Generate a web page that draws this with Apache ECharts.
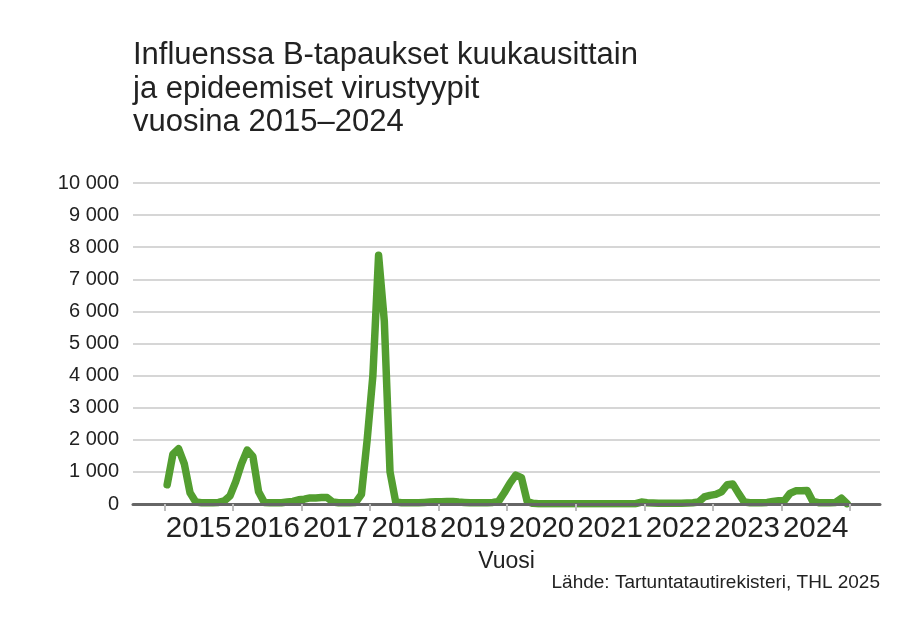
<!DOCTYPE html>
<html>
<head>
<meta charset="utf-8">
<script src="https://cdn.jsdelivr.net/npm/echarts@6/dist/echarts.min.js"></script>
<style>
  html, body { margin: 0; padding: 0; background: #fff; }
  #chart { width: 920px; height: 629px; }
</style>
</head>
<body>
<div id="chart"></div>
<script>
// monthly influenza B cases, Jan..Dec of each year
var cases2015 = [600, 1550, 1720, 1250, 350, 60, 40, 40, 40, 50, 100, 250];
var cases2016 = [700, 1250, 1680, 1480, 380, 50, 40, 40, 40, 60, 80, 130];
var cases2017 = [150, 190, 190, 200, 200, 60, 40, 40, 40, 50, 300, 2000];
var cases2018 = [4000, 7750, 5700, 1000, 60, 40, 40, 40, 40, 50, 60, 70];
var cases2019 = [70, 80, 80, 60, 50, 40, 40, 40, 40, 50, 80, 350];
var cases2020 = [650, 900, 820, 80, 20, 10, 10, 10, 10, 10, 10, 10];
var cases2021 = [10, 10, 10, 10, 10, 10, 10, 10, 10, 10, 10, 60];
var cases2022 = [40, 30, 20, 20, 20, 20, 20, 30, 40, 60, 220, 270];
var cases2023 = [300, 380, 600, 620, 330, 60, 40, 40, 40, 50, 80, 100];
var cases2024 = [100, 330, 410, 410, 420, 80, 40, 40, 40, 50, 180, 10];

var years = [2015, 2016, 2017, 2018, 2019, 2020, 2021, 2022, 2023, 2024];
var yTicks = [0, 1000, 2000, 3000, 4000, 5000, 6000, 7000, 8000, 9000, 10000];

var allMonths = [].concat(cases2015, cases2016, cases2017, cases2018, cases2019,
    cases2020, cases2021, cases2022, cases2023, cases2024);

// x value = month index, centred inside its month
var lineData = allMonths.map(function(v, i) { return [i + 0.5, v]; });
var yearBounds = years.map(function(y, i) { return i * 12; }).concat([years.length * 12]);
var yearMids = years.map(function(y, i) { return i * 12 + 6; });

var FONT = '"Liberation Sans", Arial, sans-serif';
var chart = echarts.init(document.getElementById('chart'));

chart.setOption({
    backgroundColor: '#fff',
    textStyle: { fontFamily: FONT },
    title: [
        {
            text: 'Influenssa B-tapaukset kuukausittain\nja epideemiset virustyypit\nvuosina 2015\u20132024',
            left: 133,
            top: 39,
            padding: 0,
            textStyle: { fontFamily: FONT, fontSize: 31, fontWeight: 'normal', lineHeight: 33.5, color: '#222' }
        },
        {
            text: 'Lähde: Tartuntatautirekisteri, THL 2025',
            right: 40,
            top: 573,
            padding: 0,
            textStyle: { fontFamily: FONT, fontSize: 19, fontWeight: 'normal', color: '#222' }
        }
    ],
    grid: { left: 133, right: 40, top: 183, bottom: 125 },
    xAxis: {
        type: 'value',
        min: -5.48,
        max: 125.25,
        z: 5,
        name: 'Vuosi',
        nameLocation: 'middle',
        nameGap: 46,
        nameTextStyle: { fontFamily: FONT, fontSize: 23, color: '#222' },
        axisLine: { show: true, lineStyle: { color: '#666', width: 3 } },
        axisTick: {
            show: true,
            customValues: yearBounds,
            length: 7,
            lineStyle: { color: '#bdbdbd', width: 2 }
        },
        axisLabel: {
            customValues: yearMids,
            margin: 10,
            fontFamily: FONT,
            fontSize: 29.5,
            color: '#222',
            formatter: function(v) { return String(years[Math.round((v - 6) / 12)]); }
        },
        splitLine: { show: false }
    },
    yAxis: {
        type: 'value',
        min: yTicks[0],
        max: yTicks[yTicks.length - 1],
        interval: 1000,
        axisLine: { show: false },
        axisTick: { show: false },
        axisLabel: {
            margin: 14,
            fontFamily: FONT,
            fontSize: 20,
            color: '#222',
            formatter: function(v) { return String(v).replace(/\B(?=(\d{3})+(?!\d))/g, ' '); }
        },
        splitLine: { lineStyle: { color: '#c8c8c8', width: 1.5 } }
    },
    series: [{
        type: 'line',
        data: lineData,
        symbol: 'none',
        smooth: false,
        animation: false,
        lineStyle: { color: '#539e30', width: 7.5, join: 'round', cap: 'round' }
    }]
});
</script>
</body>
</html>
